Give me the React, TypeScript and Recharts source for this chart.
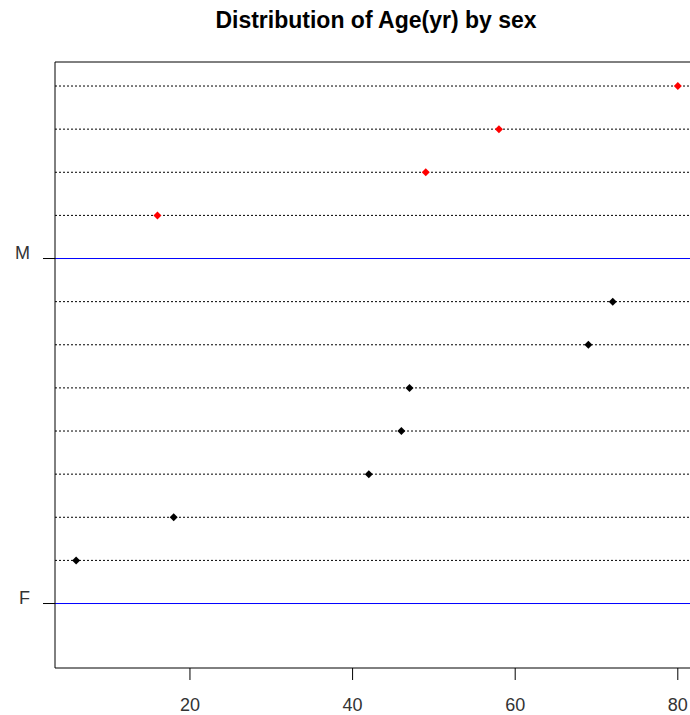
import { ComposedChart, Scatter, XAxis, YAxis, ReferenceLine } from "recharts";

// row positions: F group line at 0, F rows 1..7, M group line at 8, M rows 9..12
const groups = ["F", "M"];
const groupRows = [0, 8];
const femaleAges = [6, 18, 42, 46, 47, 69, 72];
const maleAges = [16, 49, 58, 80];
const xTicks = [20, 40, 60, 80];

const femaleData = femaleAges.map((age, i) => ({ x: age, y: i + 1 }));
const maleData = maleAges.map((age, i) => ({ x: age, y: i + 9 }));
const dotRows = [...femaleData, ...maleData].map((d) => d.y);

const Y_MIN = -1.495;
const Y_MAX = 12.557;
const FONT = "'Liberation Sans', Arial, sans-serif";

const Diamond = (color: string) => (props: any) => {
  const { cx, cy } = props;
  const r = 4;
  return (
    <polygon
      points={`${cx},${cy - r} ${cx + r},${cy} ${cx},${cy + r} ${cx - r},${cy}`}
      fill={color}
    />
  );
};

const GroupTick = (props: any) => {
  const { x, y, payload } = props;
  return (
    <text x={x} y={y} textAnchor="end" fill="#333" fontSize={18} fontFamily={FONT}>
      {groups[groupRows.indexOf(payload.value)] ?? ""}
    </text>
  );
};

export default function App() {
  return (
    <div style={{ position: "absolute", left: 0, top: 0, width: 690, height: 715, background: "#fff" }}>
      <div
        style={{
          position: "absolute",
          left: 55,
          width: 642,
          top: 7,
          textAlign: "center",
          fontFamily: FONT,
          fontWeight: "bold",
          fontSize: 23,
          color: "#000",
        }}
      >
        Distribution of Age(yr) by sex
      </div>
      <ComposedChart
        width={690}
        height={715}
        margin={{ top: 62, right: 0, bottom: 0, left: 0 }}
      >
        <XAxis
          type="number"
          dataKey="x"
          domain={[3.4, 81.5]}
          ticks={xTicks}
          allowDataOverflow
          height={47}
          tickSize={12}
          tickMargin={18}
          stroke="#000"
          tick={{ fill: "#333", fontSize: 18, fontFamily: FONT }}
        />
        <YAxis
          type="number"
          dataKey="y"
          domain={[Y_MIN, Y_MAX]}
          ticks={groupRows}
          allowDataOverflow
          width={55}
          tickSize={12}
          tickMargin={13}
          stroke="#000"
          tick={<GroupTick />}
        />
        <ReferenceLine y={Y_MAX} stroke="#000" strokeWidth={1} />
        {dotRows.map((r) => (
          <ReferenceLine key={r} y={r} stroke="#000" strokeDasharray="2 2" strokeWidth={1} />
        ))}
        {groupRows.map((r) => (
          <ReferenceLine key={"g" + r} y={r} stroke="#0000ff" strokeWidth={1} />
        ))}
        <Scatter data={femaleData} fill="#000" shape={Diamond("#000")} isAnimationActive={false} />
        <Scatter data={maleData} fill="#ff0000" shape={Diamond("#ff0000")} isAnimationActive={false} />
      </ComposedChart>
    </div>
  );
}
